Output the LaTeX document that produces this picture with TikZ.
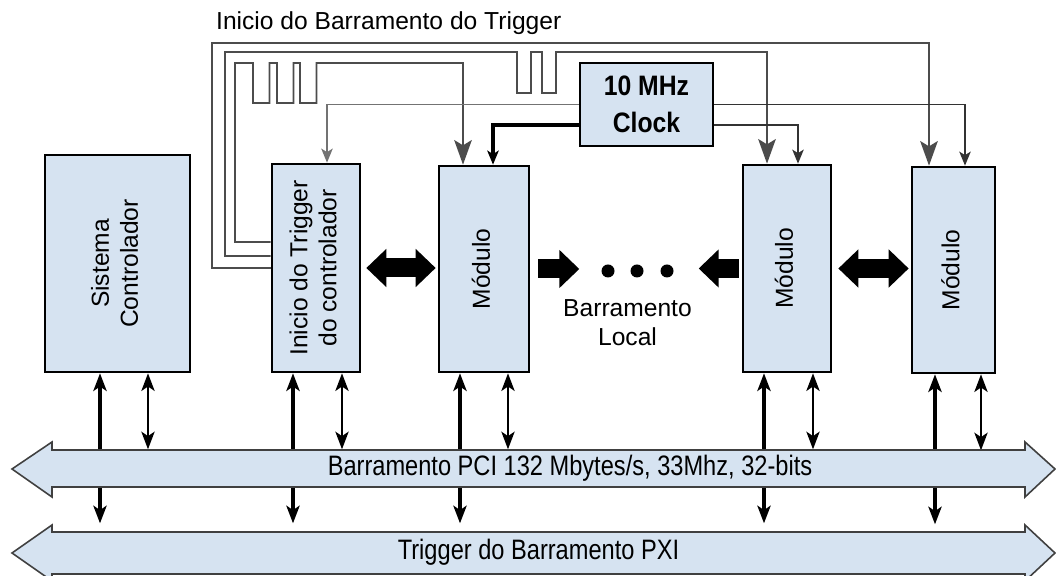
\documentclass[tikz,border=0pt]{standalone}
\usepackage{graphicx}
\usepackage{fontspec}
\setmainfont{Liberation Sans}
\newfontfamily\clockfont[FakeStretch=0.88]{Liberation Sans}
\newfontfamily\busfont[FakeStretch=0.84]{Liberation Sans}
\usetikzlibrary{arrows.meta,calc,positioning}
\definecolor{boxblue}{RGB}{214,227,241}
\newcommand\vlabel[1]{\rotatebox{90}{\begin{tabular}{@{}c@{}}#1\end{tabular}}}
\tikzset{blocktip/.tip={Triangle[length=0.4cm,width=0.74cm]}}

\begin{document}
\begin{tikzpicture}[font=\fontsize{14}{16.5}\selectfont, line join=miter,
  box/.style={draw=black, line width=1.5pt, fill=boxblue, inner sep=0pt},
  bus/.style={draw=black!75, line width=0.9pt, fill=boxblue},
  buslabel/.style={font=\busfont\fontsize{16}{18}\selectfont},
  trig/.style={black!70, line width=1.1pt},
  bigtip/.style={-{Stealth[length=14pt,width=10pt,inset=3pt]}},
  smalltip/.style={-{Stealth[length=8pt,width=6.5pt,inset=2pt]}},
  bothtip/.style={{Stealth[length=10pt,width=7.5pt,inset=2.5pt]}-{Stealth[length=10pt,width=7.5pt,inset=2.5pt]}},
  block/.style={black, line width=0.38cm}]
  \useasboundingbox (0,0) rectangle (21.12,11.52);

  % Title.
  \node[anchor=west] (title) at (4.2,11.06) {Inicio do Barramento do Trigger};

  % Boxes.
  \node[box, minimum width=2.9cm, minimum height=4.34cm] (sis) at (2.35,6.25) {\vlabel{Sistema\\Controlador}};
  \node[box, minimum width=1.76cm, minimum height=4.16cm] (ini) at (6.32,6.16) {\vlabel{Inicio do Trigger\\do controlador}};
  \node[box, minimum width=1.8cm, minimum height=4.12cm] (mod1) at (9.68,6.14) {\vlabel{Módulo}};
  \node[box, minimum width=1.76cm, minimum height=4.14cm] (mod2) at (15.74,6.15) {\vlabel{Módulo}};
  \node[box, minimum width=1.66cm, minimum height=4.12cm] (mod3) at (19.07,6.12) {\vlabel{Módulo}};
  \node[box, minimum width=2.66cm, minimum height=1.66cm, align=center,
    font=\clockfont\bfseries\fontsize{16}{21}\selectfont] (clk) at (12.93,9.43) {10 MHz\\Clock};

  % Trigger lines.
  \draw[trig, bigtip] (ini.west) -| (4.24,10.66) -| ([xshift=-0.49cm]mod3.north);
  \draw[trig, bigtip] ([yshift=0.24cm]ini.west) -| (4.5,10.48)
    \foreach \x in {10.34,10.84} { -- (\x,10.48) -- (\x,9.66) -- ++(0.28,0) -- ++(0,0.82) }
    -| ([xshift=-0.4cm]mod2.north);
  \draw[trig, bigtip] ([yshift=0.52cm]ini.west) -| (4.7,10.26)
    \foreach \x in {5.06,5.54,6.0} { -- (\x,10.26) -- (\x,9.46) -- ++(0.33,0) -- ++(0,0.8) }
    -| ([xshift=-0.42cm]mod1.north);

  % Clock lines.
  \draw[black!55, line width=1pt, smalltip] (clk.west) -| ([xshift=0.22cm]ini.north);
  \draw[black, line width=2pt, smalltip] ([yshift=-0.41cm]clk.west) -| ([xshift=0.18cm]mod1.north);
  \draw[black!80, line width=1pt, smalltip] (clk.east) -| ([xshift=0.23cm]mod3.north);
  \draw[black!80, line width=1pt, smalltip] ([yshift=-0.41cm]clk.east) -| ([xshift=0.22cm]mod2.north);

  % Local bus.
  \draw[block, blocktip-blocktip, shorten <=0.1cm, shorten >=0.04cm] (ini.east) -- (ini.east -| mod1.west);
  \draw[block, -blocktip] ([xshift=0.16cm]mod1.east) -- ++(0.82,0);
  \foreach \x in {12.16,12.74,13.34} \fill (\x,6.1) circle (0.13);
  \draw[block, -blocktip] ([xshift=-0.06cm]mod2.west) -- ++(-0.8,0);
  \draw[block, blocktip-blocktip, shorten <=0.12cm, shorten >=0.04cm] (mod2.east) -- (mod2.east -| mod3.west);
  \node[align=center] (local) at (12.55,5.07) {Barramento\\Local};

  % Links down to the buses.
  \foreach \b/\l/\r in {sis/-0.35/0.61, ini/-0.46/0.52, mod1/-0.48/0.48, mod2/-0.46/0.52, mod3/-0.37/0.55}{
    \draw[black, line width=2pt, bothtip] ([xshift=\l cm]\b.south) -- ++(0,-3);
    \draw[black, line width=1.4pt, bothtip] ([xshift=\r cm]\b.south) -- ++(0,-1.52);
  }

  % PCI and PXI buses.
  \draw[bus] (0.24,2.14) -- (1.04,2.68) -- (1.04,2.52) -- (20.5,2.52) -- (20.5,2.68) -- (21.1,2.14)
    -- (20.5,1.58) -- (20.5,1.78) -- (1.04,1.78) -- (1.04,1.58) -- cycle;
  \node[buslabel] (pci) at (11.4,2.15) {Barramento PCI 132 Mbytes/s, 33Mhz, 32-bits};
  \draw[bus] (0.24,0.46) -- (1.04,1.02) -- (1.04,0.88) -- (20.5,0.88) -- (20.5,1.02) -- (21.1,0.46)
    -- (20.5,-0.1) -- (20.5,0.04) -- (1.04,0.04) -- (1.04,-0.1) -- cycle;
  \node[buslabel] (pxi) at (10.77,0.47) {Trigger do Barramento PXI};
\end{tikzpicture}
\end{document}
